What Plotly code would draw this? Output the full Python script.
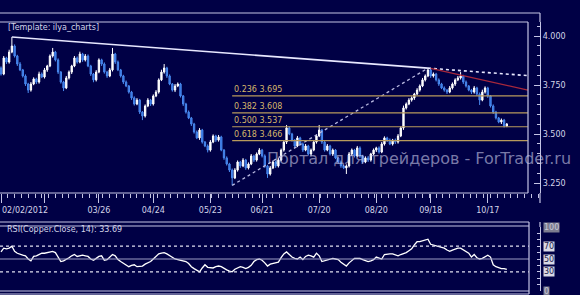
import plotly.graph_objects as go

# ---------------- data ----------------
open_first = 3.837
close = [
    3.806, 3.888, 3.867, 3.918, 3.949, 3.898, 3.857, 3.827, 3.796, 3.755,
    3.724, 3.755, 3.781, 3.765, 3.806, 3.791, 3.827, 3.847, 3.898, 3.918,
    3.878, 3.816, 3.765, 3.735, 3.786, 3.816, 3.847, 3.888, 3.867, 3.908,
    3.878, 3.898, 3.847, 3.806, 3.776, 3.816, 3.878, 3.857, 3.816, 3.796,
    3.827, 3.908, 3.867, 3.827, 3.796, 3.765, 3.745, 3.714, 3.684, 3.653,
    3.673, 3.612, 3.592, 3.643, 3.673, 3.653, 3.694, 3.714, 3.776, 3.816,
    3.837, 3.796, 3.755, 3.724, 3.745, 3.755, 3.694, 3.653, 3.612, 3.582,
    3.551, 3.510, 3.480, 3.520, 3.459, 3.439, 3.418, 3.459, 3.490, 3.469,
    3.485, 3.418, 3.378, 3.347, 3.316, 3.276, 3.316, 3.357, 3.337, 3.367,
    3.327, 3.347, 3.388, 3.367, 3.398, 3.418, 3.388, 3.337, 3.296, 3.327,
    3.357, 3.337, 3.367, 3.418, 3.459, 3.531, 3.500, 3.469, 3.439, 3.480,
    3.449, 3.418, 3.439, 3.398, 3.418, 3.459, 3.490, 3.520, 3.459, 3.418,
    3.439, 3.398, 3.418, 3.378, 3.357, 3.337, 3.327, 3.337, 3.398, 3.418,
    3.388, 3.429, 3.388, 3.357, 3.378, 3.367, 3.398, 3.418, 3.429, 3.408,
    3.449, 3.480, 3.469, 3.449, 3.469, 3.459, 3.490, 3.531, 3.633, 3.653,
    3.673, 3.684, 3.704, 3.724, 3.745, 3.776, 3.796, 3.827, 3.796, 3.806,
    3.776, 3.755, 3.735, 3.724, 3.714, 3.735, 3.755, 3.776, 3.786, 3.796,
    3.765, 3.745, 3.724, 3.714, 3.735, 3.704, 3.673, 3.714, 3.735, 3.694,
    3.643, 3.612, 3.582, 3.561, 3.571, 3.541, 3.551,
]
# wick lengths in thousandths of a point
wick_up_milli = [
    8, 10, 6, 12, 46, 8, 6, 10, 5, 8,
    6, 10, 8, 6, 12, 8, 10, 6, 8, 21,
    6, 8, 5, 6, 10, 8, 6, 10, 8, 12,
    6, 10, 8, 6, 5, 10, 8, 6, 8, 6,
    10, 31, 6, 8, 5, 6, 8, 5, 6, 8,
    10, 6, 5, 8, 10, 6, 8, 10, 8, 12,
    20, 6, 8, 5, 10, 8, 6, 5, 6, 8,
    5, 6, 8, 10, 6, 5, 8, 10, 8, 6,
    10, 6, 5, 8, 6, 8, 10, 8, 6, 10,
    6, 8, 10, 6, 8, 10, 6, 8, 6, 10,
    8, 6, 10, 8, 10, 15, 8, 6, 5, 10,
    6, 8, 10, 6, 8, 10, 8, 26, 6, 8,
    10, 6, 8, 5, 6, 8, 6, 8, 10, 8,
    6, 10, 8, 6, 8, 10, 6, 8, 6, 8,
    10, 8, 6, 8, 6, 8, 10, 8, 12, 8,
    10, 8, 6, 10, 8, 10, 8, 9, 8, 8,
    6, 8, 6, 8, 5, 10, 8, 8, 10, 20,
    6, 8, 5, 6, 10, 6, 8, 12, 8, 6,
    5, 8, 6, 5, 8, 6, 5,
]
wick_dn_milli = [
    8, 6, 10, 8, 6, 8, 10, 6, 8, 10,
    15, 8, 6, 10, 8, 6, 8, 10, 6, 8,
    8, 10, 8, 16, 6, 8, 10, 6, 8, 6,
    10, 8, 6, 10, 12, 8, 6, 10, 8, 10,
    6, 8, 10, 6, 8, 10, 6, 8, 10, 8,
    6, 10, 21, 8, 6, 10, 8, 6, 8, 6,
    8, 10, 6, 8, 10, 6, 8, 10, 8, 6,
    10, 8, 6, 10, 8, 6, 12, 8, 6, 10,
    8, 6, 10, 8, 10, 38, 6, 8, 10, 6,
    10, 8, 6, 10, 8, 6, 8, 10, 20, 8,
    6, 10, 8, 6, 8, 10, 6, 8, 10, 6,
    8, 10, 6, 8, 10, 6, 8, 6, 10, 8,
    6, 8, 10, 6, 8, 10, 6, 31, 8, 10,
    8, 6, 10, 8, 6, 10, 8, 6, 10, 8,
    6, 8, 10, 6, 8, 10, 8, 6, 10, 8,
    6, 8, 10, 6, 8, 6, 8, 6, 10, 8,
    8, 10, 6, 8, 10, 6, 8, 10, 6, 8,
    10, 8, 6, 10, 8, 10, 25, 6, 8, 10,
    8, 10, 8, 6, 10, 8, 6,
]
rsi = [
    61, 67, 66, 67, 70, 62, 59, 57, 56, 55,
    50, 47, 54, 55, 57, 59, 59, 60, 61, 62,
    60, 54, 46, 47, 49, 52, 55, 57, 54, 55,
    56, 55, 54, 50, 48, 51, 54, 55, 48, 49,
    53, 57, 55, 49, 46, 43, 40, 38, 40, 41,
    38, 39, 39, 42, 44, 46, 50, 54, 58, 59,
    60, 58, 55, 52, 50, 49, 48, 47, 46, 43,
    38, 35, 33, 30, 36, 41, 37, 36, 36, 38,
    39, 38, 35, 33, 31, 30, 34, 36, 38, 37,
    35, 37, 40, 46, 49, 50, 48, 44, 39, 42,
    43, 44, 45, 52, 58, 61, 57, 53, 51, 50,
    53, 49, 54, 56, 55, 53, 59, 55, 46, 47,
    49, 50, 51, 50, 49, 45, 42, 39, 44, 48,
    51, 51, 51, 49, 47, 46, 47, 49, 53, 51,
    50, 57, 58, 58, 58, 56, 55, 57, 58, 60,
    63, 66, 72, 77, 77, 78, 79, 81, 73, 72,
    71, 70, 69, 67, 64, 62, 64, 66, 67, 67,
    64, 61, 59, 53, 57, 52, 50, 51, 53, 56,
    53, 41, 38, 36, 35, 35, 33.69,
]
date_tick_idx = [0, 16, 36, 56, 77, 96, 117, 138, 158, 179]
date_tick_text = ["", "", "03/26", "04/24", "05/23", "06/21", "07/20", "08/20", "09/18", "10/17"]
first_date_label = "02/02/2012"
price_ticks = [3.25, 3.5, 3.75, 4.0]

trend_idx = [4, 157]
trend_px = [3.995, 3.836]
red_idx = [158, 193.75]
red_px = [3.835, 3.724]
fib_low_idx, fib_low = 85, 3.238
fib_high_idx, fib_high = 157, 3.836
fib_ratios = [0.236, 0.382, 0.5, 0.618]
rsi_levels = [100, 70, 50, 30, 0]
right_edge_idx = 193.75

# ---------------- derived ----------------
n = len(close)
idx = list(range(n))
opens = [open_first] + close[:-1]
highs = [max(o, c) + w / 1000 for o, c, w in zip(opens, close, wick_up_milli)]
lows = [min(o, c) - w / 1000 for o, c, w in zip(opens, close, wick_dn_milli)]

BG = "#000045"
LINE = "#c4c4e4"
TXT = "#d4d4e8"
GOLD_LINE = "#b89a5c"
GOLD_TXT = "#d6b66a"
FONT = "DejaVu Sans"

W, H = 580, 295
ML, MR, MT, MB = 0, 40, 22, 4
PW = W - ML - MR  # 540
PH = H - MT - MB  # 269


def px_x(x):
    return (x - ML) / PW


def px_y(y):
    return (H - MB - y) / PH


fig = go.Figure()

fig.add_trace(go.Candlestick(
    x=idx, open=opens, high=highs, low=lows, close=close,
    increasing=dict(line=dict(color="#ffffff", width=1), fillcolor="#ffffff"),
    decreasing=dict(line=dict(color="#4a8af0", width=1), fillcolor="#2e6cd6"),
    whiskerwidth=0, xaxis="x", yaxis="y", hoverinfo="skip",
))

# trendline (solid) and its dotted extension
slope = (trend_px[1] - trend_px[0]) / (trend_idx[1] - trend_idx[0])
ext_val = trend_px[1] + slope * (right_edge_idx - trend_idx[1])
fig.add_trace(go.Scatter(x=trend_idx, y=trend_px, mode="lines",
                         line=dict(color="#e8e8ff", width=1.6), xaxis="x", yaxis="y"))
fig.add_trace(go.Scatter(x=[trend_idx[1], right_edge_idx], y=[trend_px[1], ext_val], mode="lines",
                         line=dict(color="#e8e8ff", width=1.6, dash="dot"), xaxis="x", yaxis="y"))
# red line
fig.add_trace(go.Scatter(x=red_idx, y=red_px, mode="lines",
                         line=dict(color="#a8283c", width=1.3), xaxis="x", yaxis="y"))
# fib diagonal
fig.add_trace(go.Scatter(x=[fib_low_idx, fib_high_idx], y=[fib_low, fib_high], mode="lines",
                         line=dict(color="#b8b8e0", width=1.3, dash="dot"), xaxis="x", yaxis="y"))

annotations = []
for r in fib_ratios:
    lvl = fib_high - r * (fib_high - fib_low)
    fig.add_trace(go.Scatter(x=[fib_low_idx, right_edge_idx], y=[lvl, lvl], mode="lines",
                             line=dict(color=GOLD_LINE, width=1.2), xaxis="x", yaxis="y"))
    annotations.append(dict(x=fib_low_idx, y=lvl, xref="x", yref="y", xanchor="left", yanchor="bottom",
                            text=f"{r:.3f} {lvl:.3f}", showarrow=False, yshift=0,
                            font=dict(family=FONT, size=8, color=GOLD_TXT)))

# RSI
fig.add_trace(go.Scatter(x=idx, y=rsi, mode="lines", line=dict(color="#ffffff", width=1.3),
                         xaxis="x2", yaxis="y2"))

shapes = []
# RSI ref lines
for lv, dash, col in [(70, "dot", "#e0e0f0"), (30, "dot", "#e0e0f0"), (50, "solid", "#9c9cc4")]:
    shapes.append(dict(type="line", xref="paper", yref="y2", x0=0, x1=px_x(529), y0=lv, y1=lv,
                       line=dict(color=col, width=1.2, dash=dash)))


def hline(y, x0, x1, w=1.2, col=LINE):
    shapes.append(dict(type="line", xref="paper", yref="paper", x0=px_x(x0), x1=px_x(x1),
                       y0=px_y(y), y1=px_y(y), line=dict(color=col, width=w)))


def vline(x, y0, y1, w=1.2, col=LINE):
    shapes.append(dict(type="line", xref="paper", yref="paper", x0=px_x(x), x1=px_x(x),
                       y0=px_y(y0), y1=px_y(y1), line=dict(color=col, width=w)))


# main panel frame
hline(13, 0, 540)
hline(22, 0, 528)
vline(528, 22, 193)
vline(540, 13, 22)
vline(540, 193, 203)
hline(193, 0, 528)
# RSI frame
hline(222, 0, 529)
hline(226, 0, 529)
hline(291, 0, 529)
hline(294, 0, 529)
vline(529, 222, 294)
vline(540, 222, 227)

annotations.append(dict(x=px_x(6), y=px_y(28), xref="paper", yref="paper", xanchor="left",
                        yanchor="middle", text="[Template: ilya_charts]", showarrow=False,
                        font=dict(family=FONT, size=8, color=TXT)))
annotations.append(dict(x=px_x(5), y=px_y(229), xref="paper", yref="paper", xanchor="left",
                        yanchor="middle", text=f"RSI(Copper.Close, 14): {rsi[-1]:.2f}", showarrow=False,
                        font=dict(family=FONT, size=8, color=TXT)))
annotations.append(dict(x=0, y=px_y(211), xref="paper", yref="paper", xanchor="left",
                        yanchor="middle", text=first_date_label, showarrow=False,
                        font=dict(family=FONT, size=8, color=TXT)))
annotations.append(dict(x=px_x(419), y=px_y(158), xref="paper", yref="paper", xanchor="center",
                        yanchor="middle", text="Портал для трейдеров - ForTrader.ru", showarrow=False,
                        font=dict(family=FONT, size=16, color="rgba(205,205,235,0.6)")))
for lv in rsi_levels:
    dark = lv in (100, 0)
    annotations.append(dict(x=px_x(543), y=lv, xref="paper", yref="y2", xanchor="left",
                            yanchor="middle", text=str(lv), showarrow=False,
                            bgcolor="#7c7c90" if dark else "#d8d8e4", borderpad=0,
                            font=dict(family=FONT, size=8, color="#c8c8d8" if dark else "#20204a")))

fig.update_layout(
    width=W, height=H, margin=dict(l=ML, r=MR, t=MT, b=MB),
    paper_bgcolor=BG, plot_bgcolor=BG, showlegend=False,
    shapes=shapes, annotations=annotations,
    xaxis=dict(domain=[0, 1], anchor="y", range=[-0.37, 198.2], rangeslider=dict(visible=False),
               tickvals=date_tick_idx, ticktext=date_tick_text, ticks="outside", ticklen=9,
               tickcolor=LINE, tickwidth=1, showline=False, showgrid=False, zeroline=False,
               tickfont=dict(family=FONT, size=8, color=TXT),
               minor=dict(ticks="outside", ticklen=4, tickcolor=LINE, tick0=0, dtick=2.5, showgrid=False)),
    yaxis=dict(domain=[px_y(193), 1], anchor="x", side="right", range=[3.199, 4.0714],
               tickvals=price_ticks, ticktext=[f"{v:.3f}" for v in price_ticks],
               ticks="inside", ticklen=6, tickcolor=LINE, showline=True, linecolor=LINE, linewidth=1.2,
               showgrid=False, zeroline=False, tickfont=dict(family=FONT, size=8, color=TXT),
               minor=dict(ticks="inside", ticklen=3, tickcolor=LINE, dtick=0.05, showgrid=False)),
    xaxis2=dict(domain=[0, 1], anchor="y2", matches="x", showticklabels=False, ticks="",
                showgrid=False, zeroline=False, showline=False),
    yaxis2=dict(domain=[0, px_y(227)], anchor="x2", side="right", range=[0, 100],
                tickvals=[], showticklabels=False, ticks="inside", showline=True, linecolor=LINE,
                linewidth=1.2, showgrid=False, zeroline=False,
                minor=dict(ticks="inside", ticklen=3, tickcolor=LINE, dtick=10, showgrid=False)),
)

fig.write_html("out.html")
